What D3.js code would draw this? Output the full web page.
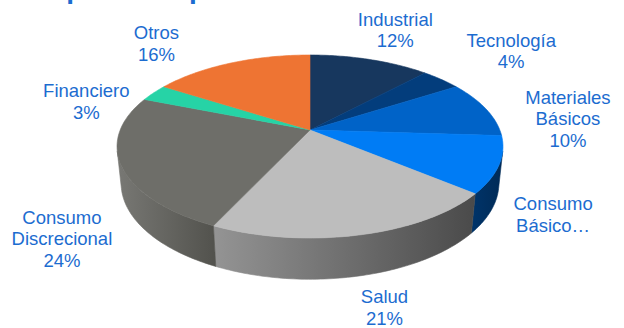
<!DOCTYPE html>
<html>
<head>
<meta charset="utf-8">
<script src="https://cdn.jsdelivr.net/npm/d3@7"></script>
<style>
  html, body { margin: 0; padding: 0; background: #ffffff; }
  svg { display: block; }
</style>
</head>
<body>
<svg id="chart" width="624" height="328"></svg>
<script>
// Sector weights (%)
const categories = ["Industrial", "Tecnología", "Materiales Básicos", "Consumo Básico",
                    "Salud", "Consumo Discrecional", "Financiero", "Otros"];
const values = [12, 4, 10, 10, 21, 24, 3, 16];
// Wrapped label text per sector; the percentage line is appended when shown
const labelNames = [["Industrial"], ["Tecnología"], ["Materiales", "Básicos"], ["Consumo", "Básico…"],
                    ["Salud"], ["Consumo", "Discrecional"], ["Financiero"], ["Otros"]];
const showPercent = [true, true, true, false, true, true, true, true];
const title = "Composición por Sector";

// Styling
const topColors = ["#17375e", "#033d7c", "#0063c8", "#007cf5", "#bdbdbd", "#6e6e69", "#26d3a6", "#ee7433"];
const wallColors = [["#0c2340", "#0a1d35"], ["#022a55", "#01234a"], ["#00458c", "#003a78"], ["#00346a", "#002a56"],
                    ["#949494", "#4a4a4a"], ["#787874", "#52524d"], ["#1a9477", "#157a62"], ["#a65224", "#8c451e"]];
const labelNudge = [[7, -8], [27, -12], [19, 17], [-25, 35], [-1, 20], [20, 59], [-14, 21], [-50, 1]];

const svg = d3.select("#chart");
const defs = svg.append("defs");

// Perspective camera looking down on a unit-radius disk
const alpha = Math.asin(0.4664);
const sA = Math.sin(alpha), cA = Math.cos(alpha);
const D = 4.905, F = 931, CX = 310, CY = 130, H = 0.22;

function project(r, theta, y) {
  const x = r * Math.cos(theta), z = r * Math.sin(theta);
  const depth = D - y * sA - z * cA;
  return [CX + F * x / depth, CY - F * (y * cA - z * sA) / depth];
}

const pie = d3.pie().sort(null).value(d => d).startAngle(0).endAngle(2 * Math.PI);
const arcs = pie(values).map((a, i) => ({
  ...a, i,
  t0: a.startAngle - Math.PI / 2,
  t1: a.endAngle - Math.PI / 2
}));

const line = d3.line().curve(d3.curveLinear);
function arcPoints(t0, t1, y) {
  const n = Math.max(2, Math.ceil(Math.abs(t1 - t0) / (Math.PI / 180)));
  return d3.range(n + 1).map(k => project(1, t0 + (t1 - t0) * k / n, y));
}

// Visible outer wall: where the rim faces the camera
const tMin = Math.asin(1 / (D * cA));
const tMax = Math.PI - tMin;

const walls = svg.append("g");
arcs.forEach(a => {
  const lo = Math.max(a.t0, tMin), hi = Math.min(a.t1, tMax);
  if (hi <= lo) return;
  const topPts = arcPoints(lo, hi, 0);
  const botPts = arcPoints(lo, hi, -H).reverse();
  const pts = topPts.concat(botPts);
  const xs = pts.map(p => p[0]);
  const gid = "wall" + a.i;
  const g = defs.append("linearGradient").attr("id", gid)
    .attr("gradientUnits", "userSpaceOnUse")
    .attr("x1", d3.min(xs)).attr("x2", d3.max(xs)).attr("y1", 0).attr("y2", 0);
  g.append("stop").attr("offset", 0).attr("stop-color", wallColors[a.i][0]);
  g.append("stop").attr("offset", 1).attr("stop-color", wallColors[a.i][1]);
  walls.append("path").attr("d", line(pts) + "Z")
    .attr("fill", `url(#${gid})`).attr("stroke", `url(#${gid})`).attr("stroke-width", 0.6);
});

// Top faces
const tops = svg.append("g");
arcs.forEach(a => {
  const pts = [project(0, 0, 0)].concat(arcPoints(a.t0, a.t1, 0));
  tops.append("path").attr("d", line(pts) + "Z")
    .attr("fill", topColors[a.i]).attr("stroke", topColors[a.i]).attr("stroke-width", 0.6)
    .attr("stroke-linejoin", "round");
});

// Labels placed outside each slice
const fs = 18.5, lh = 21.5;
const labels = svg.append("g")
  .attr("font-family", "'Liberation Sans', Arial, sans-serif")
  .attr("font-size", fs).attr("fill", "#1c6cd0").attr("text-anchor", "middle");
arcs.forEach(a => {
  const mid = (a.t0 + a.t1) / 2;
  const p = project(1.38, mid, 0);
  const x = p[0] + labelNudge[a.i][0], yc = p[1] + labelNudge[a.i][1];
  const lines = labelNames[a.i].concat(showPercent[a.i] ? [`${values[a.i]}%`] : []);
  const n = lines.length;
  const t = labels.append("text");
  lines.forEach((s, k) => {
    t.append("tspan").attr("x", x).attr("y", yc + (k - (n - 1) / 2) * lh + 0.36 * fs).text(s);
  });
});

// Heading (runs off the top edge)
svg.append("text").attr("x", 4).attr("y", -2)
  .attr("font-family", "'Liberation Sans', Arial, sans-serif")
  .attr("font-size", 28).attr("font-weight", "bold").attr("fill", "#1c6cd0")
  .text(title);
</script>
</body>
</html>
